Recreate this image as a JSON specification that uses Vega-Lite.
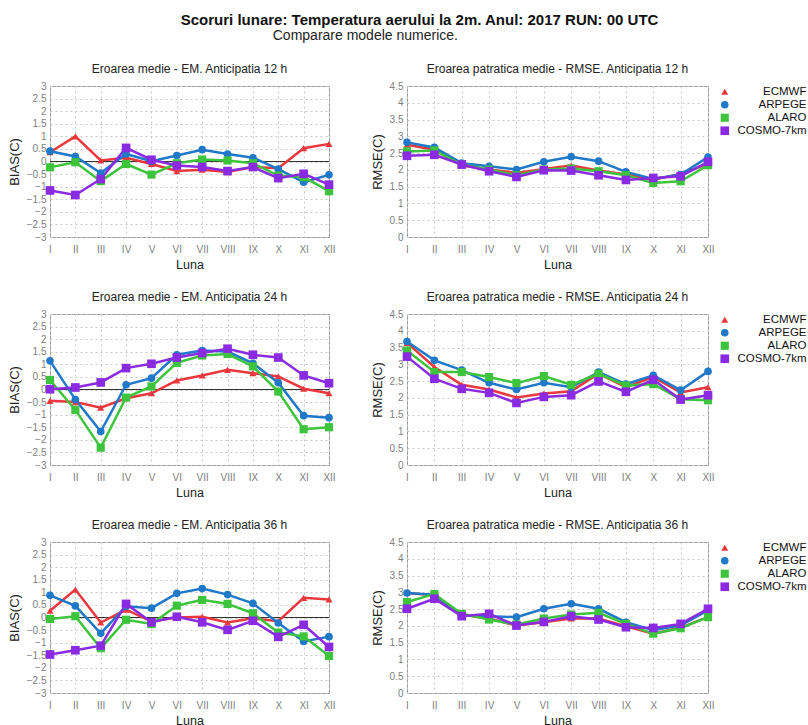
{
"$schema": "https://vega.github.io/schema/vega-lite/v6.json",
"padding": {"left": 7, "top": 12, "right": 0, "bottom": 0},
"title": {"text": "Scoruri lunare: Temperatura aerului la 2m. Anul: 2017 RUN: 00 UTC", "fontSize": 15, "fontWeight": "bold", "color": "#111", "anchor": "start", "dx": 173, "offset": 1},
"spacing": 19,
"datasets": {
"b12": [
{"m":"ECMWF","l":"I","v":0.37},{"m":"ECMWF","l":"II","v":1.0},{"m":"ECMWF","l":"III","v":0.04},{"m":"ECMWF","l":"IV","v":0.15},{"m":"ECMWF","l":"V","v":-0.1},{"m":"ECMWF","l":"VI","v":-0.38},{"m":"ECMWF","l":"VII","v":-0.33},{"m":"ECMWF","l":"VIII","v":-0.42},{"m":"ECMWF","l":"IX","v":-0.22},{"m":"ECMWF","l":"X","v":-0.27},{"m":"ECMWF","l":"XI","v":0.53},{"m":"ECMWF","l":"XII","v":0.7},
{"m":"ARPEGE","l":"I","v":0.41},{"m":"ARPEGE","l":"II","v":0.2},{"m":"ARPEGE","l":"III","v":-0.46},{"m":"ARPEGE","l":"IV","v":0.3},{"m":"ARPEGE","l":"V","v":0.01},{"m":"ARPEGE","l":"VI","v":0.24},{"m":"ARPEGE","l":"VII","v":0.47},{"m":"ARPEGE","l":"VIII","v":0.3},{"m":"ARPEGE","l":"IX","v":0.15},{"m":"ARPEGE","l":"X","v":-0.3},{"m":"ARPEGE","l":"XI","v":-0.82},{"m":"ARPEGE","l":"XII","v":-0.53},
{"m":"ALARO","l":"I","v":-0.23},{"m":"ALARO","l":"II","v":-0.03},{"m":"ALARO","l":"III","v":-0.78},{"m":"ALARO","l":"IV","v":-0.1},{"m":"ALARO","l":"V","v":-0.52},{"m":"ALARO","l":"VI","v":-0.07},{"m":"ALARO","l":"VII","v":0.08},{"m":"ALARO","l":"VIII","v":0.04},{"m":"ALARO","l":"IX","v":-0.07},{"m":"ALARO","l":"X","v":-0.56},{"m":"ALARO","l":"XI","v":-0.62},{"m":"ALARO","l":"XII","v":-1.18},
{"m":"COSMO-7km","l":"I","v":-1.15},{"m":"COSMO-7km","l":"II","v":-1.33},{"m":"COSMO-7km","l":"III","v":-0.7},{"m":"COSMO-7km","l":"IV","v":0.54},{"m":"COSMO-7km","l":"V","v":0.07},{"m":"COSMO-7km","l":"VI","v":-0.16},{"m":"COSMO-7km","l":"VII","v":-0.22},{"m":"COSMO-7km","l":"VIII","v":-0.38},{"m":"COSMO-7km","l":"IX","v":-0.22},{"m":"COSMO-7km","l":"X","v":-0.66},{"m":"COSMO-7km","l":"XI","v":-0.49},{"m":"COSMO-7km","l":"XII","v":-0.92}
],
"r12": [
{"m":"ECMWF","l":"I","v":2.75},{"m":"ECMWF","l":"II","v":2.6},{"m":"ECMWF","l":"III","v":2.13},{"m":"ECMWF","l":"IV","v":2.01},{"m":"ECMWF","l":"V","v":1.91},{"m":"ECMWF","l":"VI","v":2.03},{"m":"ECMWF","l":"VII","v":2.13},{"m":"ECMWF","l":"VIII","v":1.98},{"m":"ECMWF","l":"IX","v":1.86},{"m":"ECMWF","l":"X","v":1.71},{"m":"ECMWF","l":"XI","v":1.88},{"m":"ECMWF","l":"XII","v":2.18},
{"m":"ARPEGE","l":"I","v":2.82},{"m":"ARPEGE","l":"II","v":2.67},{"m":"ARPEGE","l":"III","v":2.2},{"m":"ARPEGE","l":"IV","v":2.11},{"m":"ARPEGE","l":"V","v":2.01},{"m":"ARPEGE","l":"VI","v":2.24},{"m":"ARPEGE","l":"VII","v":2.39},{"m":"ARPEGE","l":"VIII","v":2.26},{"m":"ARPEGE","l":"IX","v":1.94},{"m":"ARPEGE","l":"X","v":1.73},{"m":"ARPEGE","l":"XI","v":1.86},{"m":"ARPEGE","l":"XII","v":2.38},
{"m":"ALARO","l":"I","v":2.55},{"m":"ALARO","l":"II","v":2.58},{"m":"ALARO","l":"III","v":2.16},{"m":"ALARO","l":"IV","v":2.01},{"m":"ALARO","l":"V","v":1.84},{"m":"ALARO","l":"VI","v":2.01},{"m":"ALARO","l":"VII","v":2.04},{"m":"ALARO","l":"VIII","v":1.96},{"m":"ALARO","l":"IX","v":1.84},{"m":"ALARO","l":"X","v":1.61},{"m":"ALARO","l":"XI","v":1.66},{"m":"ALARO","l":"XII","v":2.14},
{"m":"COSMO-7km","l":"I","v":2.42},{"m":"COSMO-7km","l":"II","v":2.45},{"m":"COSMO-7km","l":"III","v":2.16},{"m":"COSMO-7km","l":"IV","v":1.96},{"m":"COSMO-7km","l":"V","v":1.79},{"m":"COSMO-7km","l":"VI","v":1.99},{"m":"COSMO-7km","l":"VII","v":1.98},{"m":"COSMO-7km","l":"VIII","v":1.84},{"m":"COSMO-7km","l":"IX","v":1.7},{"m":"COSMO-7km","l":"X","v":1.76},{"m":"COSMO-7km","l":"XI","v":1.81},{"m":"COSMO-7km","l":"XII","v":2.24}
],
"b24": [
{"m":"ECMWF","l":"I","v":-0.45},{"m":"ECMWF","l":"II","v":-0.5},{"m":"ECMWF","l":"III","v":-0.72},{"m":"ECMWF","l":"IV","v":-0.35},{"m":"ECMWF","l":"V","v":-0.15},{"m":"ECMWF","l":"VI","v":0.36},{"m":"ECMWF","l":"VII","v":0.56},{"m":"ECMWF","l":"VIII","v":0.78},{"m":"ECMWF","l":"IX","v":0.65},{"m":"ECMWF","l":"X","v":0.52},{"m":"ECMWF","l":"XI","v":0.03},{"m":"ECMWF","l":"XII","v":-0.15},
{"m":"ARPEGE","l":"I","v":1.14},{"m":"ARPEGE","l":"II","v":-0.4},{"m":"ARPEGE","l":"III","v":-1.67},{"m":"ARPEGE","l":"IV","v":0.19},{"m":"ARPEGE","l":"V","v":0.45},{"m":"ARPEGE","l":"VI","v":1.38},{"m":"ARPEGE","l":"VII","v":1.55},{"m":"ARPEGE","l":"VIII","v":1.51},{"m":"ARPEGE","l":"IX","v":1.04},{"m":"ARPEGE","l":"X","v":0.27},{"m":"ARPEGE","l":"XI","v":-1.04},{"m":"ARPEGE","l":"XII","v":-1.12},
{"m":"ALARO","l":"I","v":0.38},{"m":"ALARO","l":"II","v":-0.81},{"m":"ALARO","l":"III","v":-2.31},{"m":"ALARO","l":"IV","v":-0.32},{"m":"ALARO","l":"V","v":0.12},{"m":"ALARO","l":"VI","v":1.06},{"m":"ALARO","l":"VII","v":1.35},{"m":"ALARO","l":"VIII","v":1.41},{"m":"ALARO","l":"IX","v":0.92},{"m":"ALARO","l":"X","v":-0.08},{"m":"ALARO","l":"XI","v":-1.58},{"m":"ALARO","l":"XII","v":-1.5},
{"m":"COSMO-7km","l":"I","v":0.01},{"m":"COSMO-7km","l":"II","v":0.08},{"m":"COSMO-7km","l":"III","v":0.28},{"m":"COSMO-7km","l":"IV","v":0.85},{"m":"COSMO-7km","l":"V","v":1.02},{"m":"COSMO-7km","l":"VI","v":1.27},{"m":"COSMO-7km","l":"VII","v":1.45},{"m":"COSMO-7km","l":"VIII","v":1.62},{"m":"COSMO-7km","l":"IX","v":1.38},{"m":"COSMO-7km","l":"X","v":1.27},{"m":"COSMO-7km","l":"XI","v":0.56},{"m":"COSMO-7km","l":"XII","v":0.25}
],
"r24": [
{"m":"ECMWF","l":"I","v":3.64},{"m":"ECMWF","l":"II","v":2.92},{"m":"ECMWF","l":"III","v":2.39},{"m":"ECMWF","l":"IV","v":2.25},{"m":"ECMWF","l":"V","v":2.01},{"m":"ECMWF","l":"VI","v":2.13},{"m":"ECMWF","l":"VII","v":2.2},{"m":"ECMWF","l":"VIII","v":2.72},{"m":"ECMWF","l":"IX","v":2.32},{"m":"ECMWF","l":"X","v":2.62},{"m":"ECMWF","l":"XI","v":2.16},{"m":"ECMWF","l":"XII","v":2.32},
{"m":"ARPEGE","l":"I","v":3.68},{"m":"ARPEGE","l":"II","v":3.12},{"m":"ARPEGE","l":"III","v":2.83},{"m":"ARPEGE","l":"IV","v":2.45},{"m":"ARPEGE","l":"V","v":2.25},{"m":"ARPEGE","l":"VI","v":2.45},{"m":"ARPEGE","l":"VII","v":2.32},{"m":"ARPEGE","l":"VIII","v":2.77},{"m":"ARPEGE","l":"IX","v":2.41},{"m":"ARPEGE","l":"X","v":2.67},{"m":"ARPEGE","l":"XI","v":2.23},{"m":"ARPEGE","l":"XII","v":2.79},
{"m":"ALARO","l":"I","v":3.41},{"m":"ALARO","l":"II","v":2.77},{"m":"ALARO","l":"III","v":2.77},{"m":"ALARO","l":"IV","v":2.62},{"m":"ALARO","l":"V","v":2.44},{"m":"ALARO","l":"VI","v":2.65},{"m":"ALARO","l":"VII","v":2.39},{"m":"ALARO","l":"VIII","v":2.72},{"m":"ALARO","l":"IX","v":2.37},{"m":"ALARO","l":"X","v":2.41},{"m":"ALARO","l":"XI","v":1.96},{"m":"ALARO","l":"XII","v":1.93},
{"m":"COSMO-7km","l":"I","v":3.23},{"m":"COSMO-7km","l":"II","v":2.57},{"m":"COSMO-7km","l":"III","v":2.27},{"m":"COSMO-7km","l":"IV","v":2.15},{"m":"COSMO-7km","l":"V","v":1.85},{"m":"COSMO-7km","l":"VI","v":2.03},{"m":"COSMO-7km","l":"VII","v":2.08},{"m":"COSMO-7km","l":"VIII","v":2.49},{"m":"COSMO-7km","l":"IX","v":2.18},{"m":"COSMO-7km","l":"X","v":2.54},{"m":"COSMO-7km","l":"XI","v":1.95},{"m":"COSMO-7km","l":"XII","v":2.08}
],
"b36": [
{"m":"ECMWF","l":"I","v":0.27},{"m":"ECMWF","l":"II","v":1.11},{"m":"ECMWF","l":"III","v":-0.2},{"m":"ECMWF","l":"IV","v":0.31},{"m":"ECMWF","l":"V","v":-0.16},{"m":"ECMWF","l":"VI","v":0.0},{"m":"ECMWF","l":"VII","v":0.03},{"m":"ECMWF","l":"VIII","v":-0.2},{"m":"ECMWF","l":"IX","v":-0.03},{"m":"ECMWF","l":"X","v":-0.15},{"m":"ECMWF","l":"XI","v":0.78},{"m":"ECMWF","l":"XII","v":0.72},
{"m":"ARPEGE","l":"I","v":0.88},{"m":"ARPEGE","l":"II","v":0.46},{"m":"ARPEGE","l":"III","v":-0.63},{"m":"ARPEGE","l":"IV","v":0.45},{"m":"ARPEGE","l":"V","v":0.37},{"m":"ARPEGE","l":"VI","v":0.96},{"m":"ARPEGE","l":"VII","v":1.15},{"m":"ARPEGE","l":"VIII","v":0.91},{"m":"ARPEGE","l":"IX","v":0.56},{"m":"ARPEGE","l":"X","v":-0.22},{"m":"ARPEGE","l":"XI","v":-0.95},{"m":"ARPEGE","l":"XII","v":-0.76},
{"m":"ALARO","l":"I","v":-0.06},{"m":"ALARO","l":"II","v":0.05},{"m":"ALARO","l":"III","v":-1.22},{"m":"ALARO","l":"IV","v":-0.09},{"m":"ALARO","l":"V","v":-0.26},{"m":"ALARO","l":"VI","v":0.47},{"m":"ALARO","l":"VII","v":0.7},{"m":"ALARO","l":"VIII","v":0.54},{"m":"ALARO","l":"IX","v":0.17},{"m":"ALARO","l":"X","v":-0.6},{"m":"ALARO","l":"XI","v":-0.75},{"m":"ALARO","l":"XII","v":-1.53},
{"m":"COSMO-7km","l":"I","v":-1.47},{"m":"COSMO-7km","l":"II","v":-1.3},{"m":"COSMO-7km","l":"III","v":-1.12},{"m":"COSMO-7km","l":"IV","v":0.54},{"m":"COSMO-7km","l":"V","v":-0.19},{"m":"COSMO-7km","l":"VI","v":0.03},{"m":"COSMO-7km","l":"VII","v":-0.19},{"m":"COSMO-7km","l":"VIII","v":-0.49},{"m":"COSMO-7km","l":"IX","v":-0.13},{"m":"COSMO-7km","l":"X","v":-0.77},{"m":"COSMO-7km","l":"XI","v":-0.29},{"m":"COSMO-7km","l":"XII","v":-1.17}
],
"r36": [
{"m":"ECMWF","l":"I","v":2.98},{"m":"ECMWF","l":"II","v":2.91},{"m":"ECMWF","l":"III","v":2.34},{"m":"ECMWF","l":"IV","v":2.22},{"m":"ECMWF","l":"V","v":2.01},{"m":"ECMWF","l":"VI","v":2.11},{"m":"ECMWF","l":"VII","v":2.22},{"m":"ECMWF","l":"VIII","v":2.22},{"m":"ECMWF","l":"IX","v":1.99},{"m":"ECMWF","l":"X","v":1.77},{"m":"ECMWF","l":"XI","v":1.95},{"m":"ECMWF","l":"XII","v":2.26},
{"m":"ARPEGE","l":"I","v":2.98},{"m":"ARPEGE","l":"II","v":2.93},{"m":"ARPEGE","l":"III","v":2.31},{"m":"ARPEGE","l":"IV","v":2.29},{"m":"ARPEGE","l":"V","v":2.26},{"m":"ARPEGE","l":"VI","v":2.51},{"m":"ARPEGE","l":"VII","v":2.66},{"m":"ARPEGE","l":"VIII","v":2.51},{"m":"ARPEGE","l":"IX","v":2.11},{"m":"ARPEGE","l":"X","v":1.87},{"m":"ARPEGE","l":"XI","v":2.02},{"m":"ARPEGE","l":"XII","v":2.46},
{"m":"ALARO","l":"I","v":2.71},{"m":"ALARO","l":"II","v":2.95},{"m":"ALARO","l":"III","v":2.36},{"m":"ALARO","l":"IV","v":2.19},{"m":"ALARO","l":"V","v":2.04},{"m":"ALARO","l":"VI","v":2.22},{"m":"ALARO","l":"VII","v":2.34},{"m":"ALARO","l":"VIII","v":2.39},{"m":"ALARO","l":"IX","v":2.06},{"m":"ALARO","l":"X","v":1.77},{"m":"ALARO","l":"XI","v":1.93},{"m":"ALARO","l":"XII","v":2.26},
{"m":"COSMO-7km","l":"I","v":2.51},{"m":"COSMO-7km","l":"II","v":2.81},{"m":"COSMO-7km","l":"III","v":2.29},{"m":"COSMO-7km","l":"IV","v":2.36},{"m":"COSMO-7km","l":"V","v":2.01},{"m":"COSMO-7km","l":"VI","v":2.12},{"m":"COSMO-7km","l":"VII","v":2.29},{"m":"COSMO-7km","l":"VIII","v":2.19},{"m":"COSMO-7km","l":"IX","v":1.96},{"m":"COSMO-7km","l":"X","v":1.94},{"m":"COSMO-7km","l":"XI","v":2.06},{"m":"COSMO-7km","l":"XII","v":2.51}
]
},
"resolve": {"scale": {"color": "independent", "shape": "independent", "size": "independent"}},
"vconcat": [
{
"title": {"text": "Comparare modele numerice.", "fontSize": 14, "fontWeight": "normal", "color": "#222", "anchor": "start", "dx": 265, "offset": 20},
"spacing": 34,
"resolve": {"scale": {"color": "independent", "shape": "independent", "size": "independent"}},
"hconcat": [
{"width": 279, "height": 151, "title": "Eroarea medie - EM. Anticipatia 12 h", "data": {"name": "b12"},
"layer": [
{"data": {"values": [{"z": 0}]}, "mark": {"type": "rule", "color": "#333", "strokeWidth": 1.2}, "encoding": {"y": {"field": "z", "type": "quantitative", "scale": {"domain": [-3, 3], "nice": false, "zero": false}}}},
{"mark": {"type": "line", "strokeWidth": 2.5}, "encoding": {"x": {"field": "l", "type": "ordinal", "sort": ["I","II","III","IV","V","VI","VII","VIII","IX","X","XI","XII"], "scale": {"type": "point", "padding": 0}, "axis": {"title": "Luna", "labelAngle": 0}}, "y": {"field": "v", "type": "quantitative", "scale": {"domain": [-3, 3], "nice": false, "zero": false}, "axis": {"title": "BIAS(C)", "values": [-3,-2.5,-2,-1.5,-1,-0.5,0,0.5,1,1.5,2,2.5,3], "tickCount": 20, "format": "~g", "labelOverlap": false}}, "color": {"field": "m", "type": "nominal", "scale": {"domain": ["ECMWF","ARPEGE","ALARO","COSMO-7km"], "range": ["#e8383d","#1f78c8","#3dc43d","#8a2be2"]}, "legend": null}}},
{"mark": {"type": "point", "filled": true, "opacity": 1}, "encoding": {"x": {"field": "l", "type": "ordinal", "sort": ["I","II","III","IV","V","VI","VII","VIII","IX","X","XI","XII"]}, "y": {"field": "v", "type": "quantitative"}, "color": {"field": "m", "type": "nominal", "legend": null}, "shape": {"field": "m", "type": "nominal", "scale": {"domain": ["ECMWF","ARPEGE","ALARO","COSMO-7km"], "range": ["triangle-up","circle","square","square"]}, "legend": null}, "size": {"field": "m", "type": "nominal", "scale": {"domain": ["ECMWF","ARPEGE","ALARO","COSMO-7km"], "range": [50, 75, 32, 45]}, "legend": null}}}
]},
{"width": 301, "height": 151, "title": "Eroarea patratica medie - RMSE. Anticipatia 12 h", "data": {"name": "r12"},
"layer": [
{"mark": {"type": "line", "strokeWidth": 2.5}, "encoding": {"x": {"field": "l", "type": "ordinal", "sort": ["I","II","III","IV","V","VI","VII","VIII","IX","X","XI","XII"], "scale": {"type": "point", "padding": 0}, "axis": {"title": "Luna", "labelAngle": 0}}, "y": {"field": "v", "type": "quantitative", "scale": {"domain": [0, 4.5], "nice": false}, "axis": {"title": "RMSE(C)", "values": [0,0.5,1,1.5,2,2.5,3,3.5,4,4.5], "tickCount": 20, "format": "~g", "labelOverlap": false}}, "color": {"field": "m", "type": "nominal", "title": null, "scale": {"domain": ["ECMWF","ARPEGE","ALARO","COSMO-7km"], "range": ["#e8383d","#1f78c8","#3dc43d","#8a2be2"]}}}},
{"mark": {"type": "point", "filled": true, "opacity": 1}, "encoding": {"x": {"field": "l", "type": "ordinal", "sort": ["I","II","III","IV","V","VI","VII","VIII","IX","X","XI","XII"]}, "y": {"field": "v", "type": "quantitative"}, "color": {"field": "m", "type": "nominal", "title": null}, "shape": {"field": "m", "type": "nominal", "title": null, "scale": {"domain": ["ECMWF","ARPEGE","ALARO","COSMO-7km"], "range": ["triangle-up","circle","square","square"]}}, "size": {"field": "m", "type": "nominal", "title": null, "scale": {"domain": ["ECMWF","ARPEGE","ALARO","COSMO-7km"], "range": [50, 75, 32, 45]}}}}
]}
]
},
{
"spacing": 34,
"resolve": {"scale": {"color": "independent", "shape": "independent", "size": "independent"}},
"hconcat": [
{"width": 279, "height": 151, "title": "Eroarea medie - EM. Anticipatia 24 h", "data": {"name": "b24"},
"layer": [
{"data": {"values": [{"z": 0}]}, "mark": {"type": "rule", "color": "#333", "strokeWidth": 1.2}, "encoding": {"y": {"field": "z", "type": "quantitative", "scale": {"domain": [-3, 3], "nice": false, "zero": false}}}},
{"mark": {"type": "line", "strokeWidth": 2.5}, "encoding": {"x": {"field": "l", "type": "ordinal", "sort": ["I","II","III","IV","V","VI","VII","VIII","IX","X","XI","XII"], "scale": {"type": "point", "padding": 0}, "axis": {"title": "Luna", "labelAngle": 0}}, "y": {"field": "v", "type": "quantitative", "scale": {"domain": [-3, 3], "nice": false, "zero": false}, "axis": {"title": "BIAS(C)", "values": [-3,-2.5,-2,-1.5,-1,-0.5,0,0.5,1,1.5,2,2.5,3], "tickCount": 20, "format": "~g", "labelOverlap": false}}, "color": {"field": "m", "type": "nominal", "scale": {"domain": ["ECMWF","ARPEGE","ALARO","COSMO-7km"], "range": ["#e8383d","#1f78c8","#3dc43d","#8a2be2"]}, "legend": null}}},
{"mark": {"type": "point", "filled": true, "opacity": 1}, "encoding": {"x": {"field": "l", "type": "ordinal", "sort": ["I","II","III","IV","V","VI","VII","VIII","IX","X","XI","XII"]}, "y": {"field": "v", "type": "quantitative"}, "color": {"field": "m", "type": "nominal", "legend": null}, "shape": {"field": "m", "type": "nominal", "scale": {"domain": ["ECMWF","ARPEGE","ALARO","COSMO-7km"], "range": ["triangle-up","circle","square","square"]}, "legend": null}, "size": {"field": "m", "type": "nominal", "scale": {"domain": ["ECMWF","ARPEGE","ALARO","COSMO-7km"], "range": [50, 75, 32, 45]}, "legend": null}}}
]},
{"width": 301, "height": 151, "title": "Eroarea patratica medie - RMSE. Anticipatia 24 h", "data": {"name": "r24"},
"layer": [
{"mark": {"type": "line", "strokeWidth": 2.5}, "encoding": {"x": {"field": "l", "type": "ordinal", "sort": ["I","II","III","IV","V","VI","VII","VIII","IX","X","XI","XII"], "scale": {"type": "point", "padding": 0}, "axis": {"title": "Luna", "labelAngle": 0}}, "y": {"field": "v", "type": "quantitative", "scale": {"domain": [0, 4.5], "nice": false}, "axis": {"title": "RMSE(C)", "values": [0,0.5,1,1.5,2,2.5,3,3.5,4,4.5], "tickCount": 20, "format": "~g", "labelOverlap": false}}, "color": {"field": "m", "type": "nominal", "title": null, "scale": {"domain": ["ECMWF","ARPEGE","ALARO","COSMO-7km"], "range": ["#e8383d","#1f78c8","#3dc43d","#8a2be2"]}}}},
{"mark": {"type": "point", "filled": true, "opacity": 1}, "encoding": {"x": {"field": "l", "type": "ordinal", "sort": ["I","II","III","IV","V","VI","VII","VIII","IX","X","XI","XII"]}, "y": {"field": "v", "type": "quantitative"}, "color": {"field": "m", "type": "nominal", "title": null}, "shape": {"field": "m", "type": "nominal", "title": null, "scale": {"domain": ["ECMWF","ARPEGE","ALARO","COSMO-7km"], "range": ["triangle-up","circle","square","square"]}}, "size": {"field": "m", "type": "nominal", "title": null, "scale": {"domain": ["ECMWF","ARPEGE","ALARO","COSMO-7km"], "range": [50, 75, 32, 45]}}}}
]}
]
},
{
"spacing": 34,
"resolve": {"scale": {"color": "independent", "shape": "independent", "size": "independent"}},
"hconcat": [
{"width": 279, "height": 151, "title": "Eroarea medie - EM. Anticipatia 36 h", "data": {"name": "b36"},
"layer": [
{"data": {"values": [{"z": 0}]}, "mark": {"type": "rule", "color": "#333", "strokeWidth": 1.2}, "encoding": {"y": {"field": "z", "type": "quantitative", "scale": {"domain": [-3, 3], "nice": false, "zero": false}}}},
{"mark": {"type": "line", "strokeWidth": 2.5}, "encoding": {"x": {"field": "l", "type": "ordinal", "sort": ["I","II","III","IV","V","VI","VII","VIII","IX","X","XI","XII"], "scale": {"type": "point", "padding": 0}, "axis": {"title": "Luna", "labelAngle": 0}}, "y": {"field": "v", "type": "quantitative", "scale": {"domain": [-3, 3], "nice": false, "zero": false}, "axis": {"title": "BIAS(C)", "values": [-3,-2.5,-2,-1.5,-1,-0.5,0,0.5,1,1.5,2,2.5,3], "tickCount": 20, "format": "~g", "labelOverlap": false}}, "color": {"field": "m", "type": "nominal", "scale": {"domain": ["ECMWF","ARPEGE","ALARO","COSMO-7km"], "range": ["#e8383d","#1f78c8","#3dc43d","#8a2be2"]}, "legend": null}}},
{"mark": {"type": "point", "filled": true, "opacity": 1}, "encoding": {"x": {"field": "l", "type": "ordinal", "sort": ["I","II","III","IV","V","VI","VII","VIII","IX","X","XI","XII"]}, "y": {"field": "v", "type": "quantitative"}, "color": {"field": "m", "type": "nominal", "legend": null}, "shape": {"field": "m", "type": "nominal", "scale": {"domain": ["ECMWF","ARPEGE","ALARO","COSMO-7km"], "range": ["triangle-up","circle","square","square"]}, "legend": null}, "size": {"field": "m", "type": "nominal", "scale": {"domain": ["ECMWF","ARPEGE","ALARO","COSMO-7km"], "range": [50, 75, 32, 45]}, "legend": null}}}
]},
{"width": 301, "height": 151, "title": "Eroarea patratica medie - RMSE. Anticipatia 36 h", "data": {"name": "r36"},
"layer": [
{"mark": {"type": "line", "strokeWidth": 2.5}, "encoding": {"x": {"field": "l", "type": "ordinal", "sort": ["I","II","III","IV","V","VI","VII","VIII","IX","X","XI","XII"], "scale": {"type": "point", "padding": 0}, "axis": {"title": "Luna", "labelAngle": 0}}, "y": {"field": "v", "type": "quantitative", "scale": {"domain": [0, 4.5], "nice": false}, "axis": {"title": "RMSE(C)", "values": [0,0.5,1,1.5,2,2.5,3,3.5,4,4.5], "tickCount": 20, "format": "~g", "labelOverlap": false}}, "color": {"field": "m", "type": "nominal", "title": null, "scale": {"domain": ["ECMWF","ARPEGE","ALARO","COSMO-7km"], "range": ["#e8383d","#1f78c8","#3dc43d","#8a2be2"]}}}},
{"mark": {"type": "point", "filled": true, "opacity": 1}, "encoding": {"x": {"field": "l", "type": "ordinal", "sort": ["I","II","III","IV","V","VI","VII","VIII","IX","X","XI","XII"]}, "y": {"field": "v", "type": "quantitative"}, "color": {"field": "m", "type": "nominal", "title": null}, "shape": {"field": "m", "type": "nominal", "title": null, "scale": {"domain": ["ECMWF","ARPEGE","ALARO","COSMO-7km"], "range": ["triangle-up","circle","square","square"]}}, "size": {"field": "m", "type": "nominal", "title": null, "scale": {"domain": ["ECMWF","ARPEGE","ALARO","COSMO-7km"], "range": [50, 75, 32, 45]}}}}
]}
]
}
],
"config": {
"font": "Liberation Sans",
"view": {"stroke": "#999", "strokeWidth": 1},
"title": {"fontSize": 12, "fontWeight": "normal", "color": "#222", "offset": 5},
"axis": {"labelFontSize": 10, "labelColor": "#808080", "labelOverlap": false, "titleFontSize": 13, "titleFontWeight": "normal", "titleColor": "#222", "grid": true, "gridColor": "#c8c8c8", "gridDash": [2, 3], "domain": false, "ticks": false, "labelPadding": 4, "titlePadding": 5},
"axisX": {"labelPadding": 7, "titlePadding": 4, "titleColor": "#222", "titleFontSize": 12.5},
"legend": {"orient": "right", "offset": 6, "labelFontSize": 11.5, "labelColor": "#111", "rowPadding": 0, "labelAlign": "right", "labelOffset": 76, "symbolStrokeWidth": 0, "padding": 0}
}
}
